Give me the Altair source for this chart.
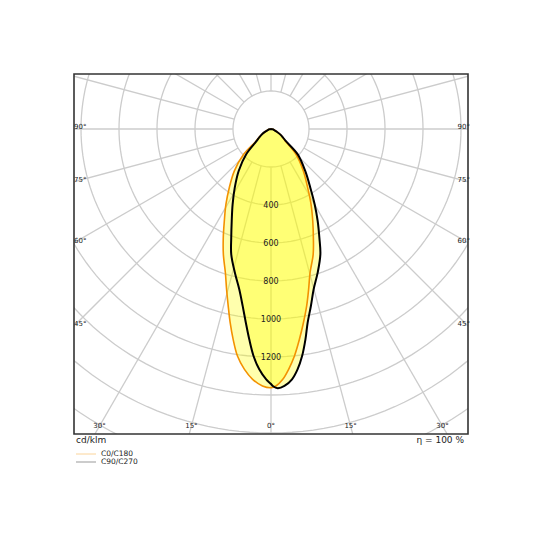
import altair as alt
import pandas as pd
import numpy as np

# ---------------- data (gamma in degrees, cd/klm) ----------------
c0_ang = [0, 1.1, 2.7, 4.2, 5.9, 7.7, 9.5, 11.4, 13.2, 15.2, 18.6, 21.3, 24.4, 28.0, 32.0, 37.6, 44.7, 50, 55, 60, 65, 72, 80, 90]
c0_val = [1362, 1353, 1319, 1268, 1201, 1117, 1034, 950, 867, 784, 696, 614, 532, 449, 364, 279, 187, 98, 74, 53, 33, 18, 9, 0]
c180_ang = [1.9, 4.2, 6.3, 8.4, 10.2, 11.9, 13.6, 15.5, 17.6, 20.8, 23.7, 26.9, 30.9, 35.4, 41.1, 47.2, 51, 55, 60, 65, 72, 80, 90]
c180_val = [1353, 1321, 1273, 1208, 1125, 1042, 958, 875, 794, 706, 625, 543, 462, 379, 294, 196, 100, 78, 55, 34, 18, 9, 0]
c90_ang = [0, 0.4, 1.5, 3.0, 4.8, 6.3, 7.8, 9.3, 10.7, 12.7, 14.9, 18.0, 21.5, 24.0, 26.9, 30.1, 33.8, 39.2, 46.5, 51, 55, 60, 65, 72, 80, 90]
c90_val = [1342, 1353, 1365, 1354, 1322, 1273, 1206, 1122, 1038, 955, 873, 795, 709, 626, 543, 458, 372, 285, 194, 98, 76, 54, 33, 18, 9, 0]
c270_ang = [1.1, 2.8, 4.4, 5.9, 7.4, 9.1, 11.2, 14.1, 17.6, 20.1, 23.1, 27.0, 31.7, 37.6, 44.5, 50, 55, 60, 65, 72, 80, 90]
c270_val = [1318, 1266, 1198, 1113, 1028, 943, 860, 780, 692, 609, 527, 445, 363, 279, 185, 100, 74, 53, 33, 18, 9, 0]

curve_names = ["C0/C180", "C90/C270"]
curve_colors = ["#f39200", "#000000"]
legend_colors = ["#fbd49a", "#999999"]

ring_vals = [200, 400, 600, 800, 1000, 1200, 1400, 1600, 1800, 2000, 2200]
ring_labels = [400, 600, 800, 1000, 1200]
spoke_angles = list(range(0, 360, 15))
bottom_angles = [-30, -15, 0, 15, 30]
side_angles = [90, 75, 60, 45]

unit_text = "cd/klm"
eta_text = "η = 100 %"

# ---------------- geometry of the plot ----------------
W, H = 394, 360
PX = 0.19                     # px per cd/klm
XMAX = (W / 2) / PX
YTOP = 55 / PX
YBOT = -(H - 55) / PX
YLAB = -297 / PX
FONT = "DejaVu Sans"

xs = alt.Scale(domain=[-XMAX, XMAX], nice=False, zero=False)
ys = alt.Scale(domain=[YBOT, YTOP], nice=False, zero=False)
X = lambda f: alt.X(f, type="quantitative", scale=xs, axis=None)
Y = lambda f: alt.Y(f, type="quantitative", scale=ys, axis=None)

# curves table
rows = []
for name, ra, rv, la, lv in [("C0/C180", c0_ang, c0_val, c180_ang, c180_val),
                             ("C90/C270", c90_ang, c90_val, c270_ang, c270_val)]:
    for a, v in zip(ra, rv):
        rows.append({"curve": name, "a": a, "I": v})
    for a, v in zip(la, lv):
        rows.append({"curve": name, "a": -a, "I": v})
curves = pd.DataFrame(rows)

# grid tables
ring_df = pd.DataFrame([{"r": r, "t": t} for r in ring_vals for t in range(0, 361, 2)])
spoke_df = pd.DataFrame({"t": spoke_angles, "r0": 200, "r1": 2400})
rlab_df = pd.DataFrame({"r": ring_labels, "txt": [str(v) for v in ring_labels]})
blab_df = pd.DataFrame({"a": bottom_angles, "txt": [f"{abs(a)}°" for a in bottom_angles]})
slab_df = pd.DataFrame({"a": side_angles, "txt": [f"{a}°" for a in side_angles]})

GRID = "#cccccc"

rings = alt.Chart(ring_df).transform_calculate(
    x="datum.r*sin(datum.t*PI/180)", y="-datum.r*cos(datum.t*PI/180)"
).mark_line(clip=True, color=GRID, strokeWidth=1.3).encode(
    x=X("x"), y=Y("y"), detail="r:N", order="t:Q")

spokes = alt.Chart(spoke_df).transform_calculate(
    x="datum.r0*sin(datum.t*PI/180)", y="-datum.r0*cos(datum.t*PI/180)",
    x2="datum.r1*sin(datum.t*PI/180)", y2="-datum.r1*cos(datum.t*PI/180)"
).mark_rule(clip=True, color=GRID, strokeWidth=1.3).encode(
    x=X("x"), y=Y("y"), x2="x2:Q", y2="y2:Q")

polar = alt.Chart(curves).transform_calculate(
    x="datum.I*sin(datum.a*PI/180)", y="-datum.I*cos(datum.a*PI/180)")

fills = polar.mark_line(fill="#ffff00", fillOpacity=0.32, strokeOpacity=0, clip=True,
                        interpolate="catmull-rom").encode(
    x=X("x"), y=Y("y"), detail="curve:N", order="a:Q")

strokes = polar.mark_line(clip=True, interpolate="catmull-rom").encode(
    x=X("x"), y=Y("y"), order="a:Q",
    color=alt.Color("curve:N", scale=alt.Scale(domain=curve_names, range=curve_colors), legend=None),
    strokeWidth=alt.StrokeWidth("curve:N", scale=alt.Scale(domain=curve_names, range=[1.6, 2.0]), legend=None))

rlabels = alt.Chart(rlab_df).transform_calculate(y="-datum.r", x="0").mark_text(
    font=FONT, fontSize=8, color="#222222", baseline="middle", dy=1).encode(
    x=X("x"), y=Y("y"), text="txt:N")

blabels = alt.Chart(blab_df).transform_calculate(
    x=f"{-YLAB}*tan(datum.a*PI/180)", y=f"{YLAB}").mark_text(
    font=FONT, fontSize=7, color="#222222", baseline="middle").encode(
    x=X("x"), y=Y("y"), text="txt:N")

slab_l = alt.Chart(slab_df).transform_calculate(
    x=f"{-XMAX}", y=f"datum.a == 90 ? 0 : -{XMAX}/tan(datum.a*PI/180)").mark_text(
    font=FONT, fontSize=7, color="#222222", baseline="middle", align="left", dy=-2).encode(
    x=X("x"), y=Y("y"), text="txt:N")
slab_r = alt.Chart(slab_df).transform_calculate(
    x=f"{XMAX}", y=f"datum.a == 90 ? 0 : -{XMAX}/tan(datum.a*PI/180)").mark_text(
    font=FONT, fontSize=7, color="#222222", baseline="middle", align="right", dy=-2, dx=2).encode(
    x=X("x"), y=Y("y"), text="txt:N")

frame = alt.Chart(pd.DataFrame({"k": [0]})).mark_rect(
    fillOpacity=0, stroke="#333333", strokeWidth=1.6).encode(
    x=alt.value(0), x2=alt.value(W), y=alt.value(0), y2=alt.value(H))

unit = alt.Chart(pd.DataFrame({"txt": [unit_text]})).mark_text(
    font=FONT, fontSize=9, align="left", baseline="middle", color="#222222").encode(
    x=alt.value(2), y=alt.value(366), text="txt:N")
eta = alt.Chart(pd.DataFrame({"txt": [eta_text]})).mark_text(
    font=FONT, fontSize=9, align="right", baseline="middle", color="#222222").encode(
    x=alt.value(W - 4), y=alt.value(366), text="txt:N")

leg_layers = []
for i, (nm, col) in enumerate(zip(curve_names, legend_colors)):
    yy = 380 + 8 * i
    leg_layers.append(alt.Chart(pd.DataFrame({"txt": [nm]})).mark_rule(color=col, strokeWidth=1).encode(
        x=alt.value(2), x2=alt.value(22), y=alt.value(yy)))
    leg_layers.append(alt.Chart(pd.DataFrame({"txt": [nm]})).mark_text(
        font=FONT, fontSize=7.5, align="left", baseline="middle", color="#222222").encode(
        x=alt.value(27), y=alt.value(yy), text="txt:N"))

chart = alt.layer(rings, spokes, fills, rlabels, blabels, slab_l, slab_r, strokes, frame,
                  unit, eta, *leg_layers).properties(
    width=W, height=H,
    padding={"left": 65, "top": 65, "right": 5, "bottom": 5},
    background="white",
).configure_view(stroke=None)

chart.save("out.html", embed_options={"renderer": "svg", "actions": False})
